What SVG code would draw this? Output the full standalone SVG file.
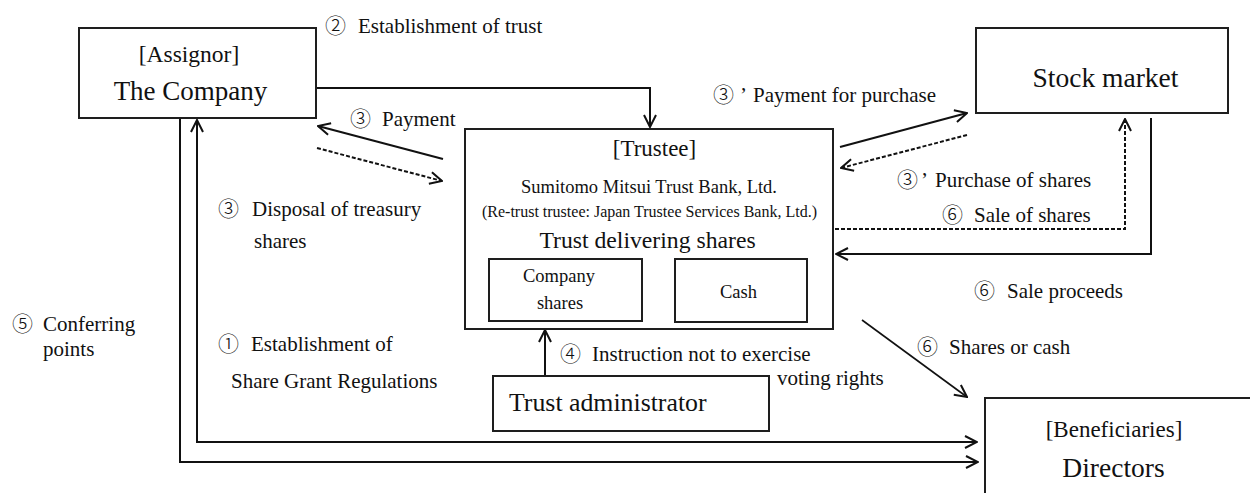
<svg xmlns="http://www.w3.org/2000/svg" width="1250" height="493" viewBox="0 0 1250 493">
<style>
.box{fill:#fff;stroke:#1e1e1e;stroke-width:2}
.ln{fill:none;stroke:#111;stroke-width:2}
.dash{stroke-dasharray:4,2}
.t{font-family:"Liberation Serif","Noto Sans CJK JP",serif;fill:#111}
.lb{font-size:21px}
.mid{text-anchor:middle}
.cn{font-family:"Noto Sans CJK JP","Liberation Serif",serif;font-weight:300}
</style>
<defs>
<marker id="ah" viewBox="0 0 14 14" refX="13" refY="7" markerWidth="14" markerHeight="14" markerUnits="userSpaceOnUse" orient="auto-start-reverse">
<path d="M1,1 L13,7 L1,13" fill="none" stroke="#111" stroke-width="2"/>
</marker>
</defs>
<rect width="1250" height="493" fill="#fff"/>

<g id="connectors">
<path class="ln" d="M316,88 H650 V127" marker-end="url(#ah)"/>
<path class="ln" d="M443,159 L318,126" marker-end="url(#ah)"/>
<path class="ln dash" d="M317,148 L442,181" marker-end="url(#ah)"/>
<path class="ln" d="M840,147 L967,113" marker-end="url(#ah)"/>
<path class="ln dash" d="M967,135 L841,168" marker-end="url(#ah)"/>
<path class="ln dash" d="M835,229 H1125 V119" marker-end="url(#ah)"/>
<path class="ln" d="M1151,118 V254 H836" marker-end="url(#ah)"/>
<path class="ln" style="stroke-width:1.6" d="M862,320 L967,397" marker-end="url(#ah)"/>
<path class="ln" d="M545,376 V330" marker-end="url(#ah)"/>
<path class="ln" d="M180,118 V462 H978" marker-end="url(#ah)"/>
<path class="ln" d="M197,120 V442 H977" marker-start="url(#ah)" marker-end="url(#ah)"/>
</g>

<g id="assignor">
<rect class="box" x="79" y="28" width="237" height="90"/>
<text class="t mid" x="189" y="62" font-size="23.5">[Assignor]</text>
<text class="t mid" x="190.5" y="100" font-size="27">The Company</text>
</g>

<g id="stock-market">
<rect class="box" x="976" y="28" width="252" height="85"/>
<text class="t mid" x="1105.5" y="87" font-size="27.5">Stock market</text>
</g>

<g id="trustee">
<rect class="box" x="465" y="129" width="368" height="200"/>
<text class="t mid" x="654.5" y="156" font-size="23">[Trustee]</text>
<text class="t mid" x="649" y="193" font-size="18.5">Sumitomo Mitsui Trust Bank, Ltd.</text>
<text class="t mid" x="649.5" y="217" font-size="16">(Re-trust trustee: Japan Trustee Services Bank, Ltd.)</text>
<text class="t mid" x="647.5" y="248" font-size="23.7">Trust delivering shares</text>
</g>

<g id="company-shares">
<rect class="box" x="489" y="259" width="153" height="62"/>
<text class="t mid" x="559" y="282" font-size="18.5">Company</text>
<text class="t mid" x="560" y="309" font-size="18.5">shares</text>
</g>

<g id="cash">
<rect class="box" x="675" y="259" width="132" height="63"/>
<text class="t mid" x="738.5" y="298" font-size="18.5">Cash</text>
</g>

<g id="trust-administrator">
<rect class="box" x="493" y="376" width="276" height="55"/>
<text class="t" x="509" y="411" font-size="25.8">Trust administrator</text>
</g>

<g id="beneficiaries">
<rect class="box" x="985" y="398" width="300" height="120"/>
<text class="t mid" x="1114" y="437" font-size="23">[Beneficiaries]</text>
<text class="t mid" x="1113.5" y="477" font-size="27.5">Directors</text>
</g>

<g id="labels">
<text class="t lb" x="325" y="33"><tspan class="cn">②</tspan><tspan x="358">Establishment of trust</tspan></text>
<text class="t lb" x="350" y="126"><tspan class="cn">③</tspan><tspan x="382">Payment</tspan></text>
<text class="t lb" x="218" y="216"><tspan class="cn">③</tspan><tspan x="252">Disposal of treasury</tspan></text>
<text class="t lb" x="254" y="248">shares</text>
<text class="t lb" x="713" y="102"><tspan class="cn">③</tspan><tspan x="740">’</tspan><tspan x="753">Payment for purchase</tspan></text>
<text class="t lb" x="897" y="187"><tspan class="cn">③</tspan><tspan x="921">’</tspan><tspan x="935">Purchase of shares</tspan></text>
<text class="t lb" x="942" y="222"><tspan class="cn">⑥</tspan><tspan x="974">Sale of shares</tspan></text>
<text class="t lb" x="974" y="298"><tspan class="cn">⑥</tspan><tspan x="1007">Sale proceeds</tspan></text>
<text class="t lb" x="917" y="354"><tspan class="cn">⑥</tspan><tspan x="949">Shares or cash</tspan></text>
<text class="t lb" x="560" y="361"><tspan class="cn">④</tspan><tspan x="592">Instruction not to exercise</tspan></text>
<text class="t lb" x="777" y="385">voting rights</text>
<text class="t lb" x="12" y="331"><tspan class="cn">⑤</tspan><tspan x="43">Conferring</tspan></text>
<text class="t lb" x="43" y="356">points</text>
<text class="t lb" x="218" y="351"><tspan class="cn">①</tspan><tspan x="251">Establishment of</tspan></text>
<text class="t lb" x="231" y="388">Share Grant Regulations</text>
</g>
</svg>
